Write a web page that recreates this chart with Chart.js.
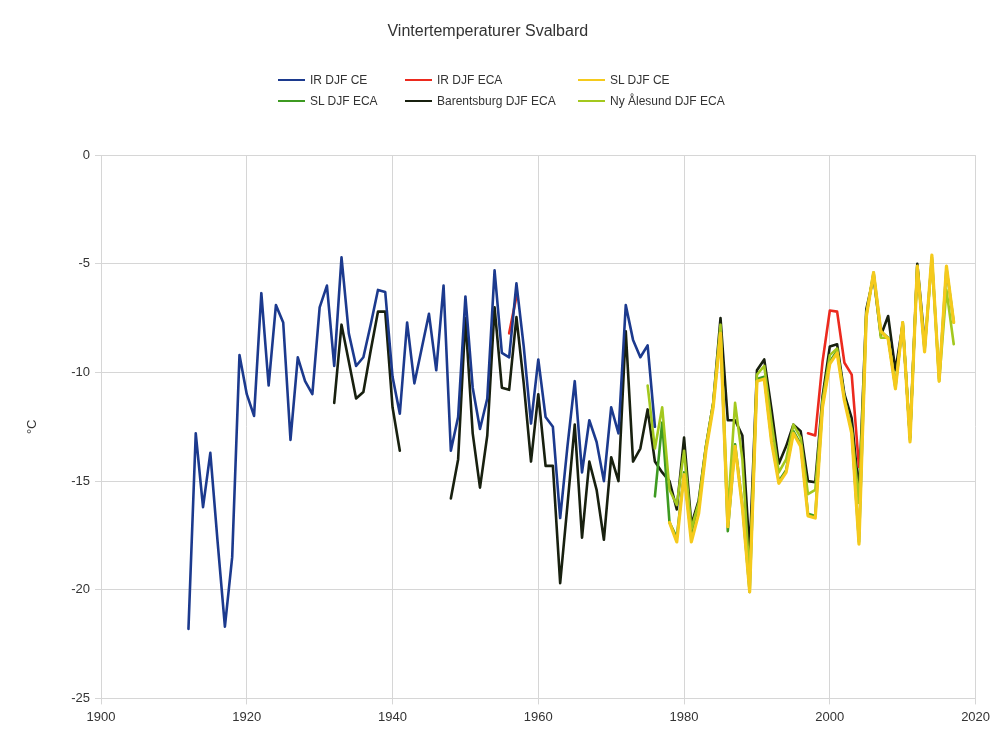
<!DOCTYPE html>
<html>
<head>
<meta charset="utf-8">
<script src="https://cdn.jsdelivr.net/npm/chart.js@4/dist/chart.umd.min.js"></script>
<style>
  body { margin: 0; background: #fff; font-family: "Liberation Sans", Arial, sans-serif; }
  #wrap { position: relative; width: 997px; height: 733px; }
  #legend {
    position: absolute; left: 278px; top: 69px;
    display: grid; grid-template-columns: 127px 173px auto;
    font-size: 12px; color: #333;
  }
  .item { display: flex; align-items: center; height: 21px; white-space: nowrap; }
  .item i { display: inline-block; width: 27px; height: 2px; margin-right: 5px; }
</style>
</head>
<body>
<div id="wrap">
  <canvas id="chart" width="997" height="733"></canvas>
  <div id="legend"></div>
</div>
<script>
// tick labels
const xTicks = [1900, 1920, 1940, 1960, 1980, 2000, 2020];
const yTicks = [0, -5, -10, -15, -20, -25];

// IR DJF CE, yearly from 1912
const irCeStart = 1912;
const irCe = [-21.8, -12.8, -16.2, -13.7, -17.8, -21.7, -18.5, -9.2, -11.0, -12.0,
  -6.35, -10.6, -6.9, -7.7, -13.1, -9.3, -10.4, -11.0, -7.0, -6.0,
  -9.7, -4.7, -8.2, -9.7, -9.3, -7.8, -6.2, -6.3, -10.2, -11.9,
  -7.7, -10.5, -8.9, -7.3, -9.9, -6.0, -13.6, -12.05, -6.5, -10.7,
  -12.6, -11.2, -5.3, -9.1, -9.3, -5.9, -8.8, -12.35, -9.4, -12.05,
  -12.5, -16.7, -13.4, -10.4, -14.6, -12.2, -13.2, -15.0, -11.6, -12.8,
  -6.9, -8.5, -9.3, -8.75, -12.5];

// IR DJF ECA, only where it shows
const irEcaYears = [1956, 1957, 1958, 1997, 1998, 1999, 2000, 2001, 2002, 2003, 2004];
const irEca = [-8.2, -6.5, null, -12.8, -12.9, -9.5, -7.15, -7.2, -9.55, -10.1, -14.35];

// SL DJF CE, yearly from 1978
const slCeStart = 1978;
const slCe = [-16.9, -17.8, -14.7, -17.8, -16.5, -13.6, -11.6, -8.2, -17.1, -13.4,
  -16.2, -20.1, -10.4, -10.3, -13.2, -15.1, -14.6, -12.8, -13.4, -16.6,
  -16.7, -11.6, -9.6, -9.1, -11.3, -12.8, -17.9, -7.45, -5.4, -8.1,
  -8.45, -10.75, -7.7, -13.2, -5.1, -9.05, -4.6, -10.4, -5.1, -7.7];

// SL DJF ECA, yearly from 1976
const slEcaStart = 1976;
const slEca = [-15.7, -12.3, -16.9, -17.6, -14.6, -17.6, -16.3, -13.5, -11.5, -8.1,
  -17.3, -13.3, -16.1, -20.1, -10.3, -10.2, -13.1, -15.0, -14.5, -12.7,
  -13.3, -16.5, -16.6, -11.5, -9.5, -9.0, -11.2, -12.7, -17.8, -7.4,
  -5.4, -8.1, -8.4, -10.7, -7.7, -13.1, -5.1, -9.0, -4.7, -10.3,
  -5.2, -7.7];

// Barentsburg DJF ECA, yearly from 1932 (gap 1942-1947)
const barStart = 1932;
const bar = [-11.4, -7.8, -9.5, -11.2, -10.9, -9.0, -7.2, -7.2, -11.6, -13.6,
  null, null, null, null, null, null, -15.8, -14.0, -7.5, -12.8,
  -15.3, -12.9, -7.0, -10.7, -10.8, -7.45, -10.5, -14.1, -11.0, -14.3,
  -14.3, -19.7, -16.1, -12.4, -17.6, -14.1, -15.4, -17.7, -13.9, -15.0,
  -8.1, -14.1, -13.5, -11.7, -14.1, -14.6, -15.0, -16.3, -13.0, -17.0,
  -15.9, -13.4, -11.4, -7.5, -12.2, -12.2, -12.9, -18.3, -9.9, -9.4,
  -11.7, -14.2, -13.4, -12.4, -12.7, -15.0, -15.05, -11.1, -8.8, -8.7,
  -11.0, -12.1, -15.5, -7.1, -5.6, -8.3, -7.4, -9.9, -7.8, -13.0,
  -5.0, -8.6];

// Ny Ålesund DJF ECA, yearly from 1975
const nyStart = 1975;
const ny = [-10.6, -13.5, -11.6, -15.4, -16.1, -13.6, -17.2, -16.0, -13.4, -11.4,
  -7.8, -16.5, -11.4, -14.0, -19.5, -10.1, -9.7, -12.3, -14.6, -14.0,
  -12.4, -13.0, -15.6, -15.4, -11.3, -9.2, -8.9, -11.2, -12.6, -16.0,
  -7.3, -5.5, -8.4, -8.4, -10.6, -7.7, -13.0, -5.1, -8.9, -4.8,
  -10.4, -6.2, -8.7];

const fromStart = (start, vals) => vals.map((v, i) => ({ x: start + i, y: v }));
const fromYears = (yrs, vals) => vals.map((v, i) => ({ x: yrs[i], y: v }));

const series = [
  { label: 'IR DJF CE', data: fromStart(irCeStart, irCe), color: '#1c3a8e', order: 1 },
  { label: 'IR DJF ECA', data: fromYears(irEcaYears, irEca), color: '#ec2a1e', order: 3 },
  { label: 'SL DJF CE', data: fromStart(slCeStart, slCe), color: '#f5ca1c', order: 0, width: 3.2 },
  { label: 'SL DJF ECA', data: fromStart(slEcaStart, slEca), color: '#3d9a21', order: 4 },
  { label: 'Barentsburg DJF ECA', data: fromStart(barStart, bar), color: '#18200f', order: 5 },
  { label: 'Ny Ålesund DJF ECA', data: fromStart(nyStart, ny), color: '#a3c81e', order: 2 }
];

const legend = document.getElementById('legend');
series.forEach(s => {
  const d = document.createElement('div');
  d.className = 'item';
  d.innerHTML = `<i style="background:${s.color}"></i>${s.label}`;
  legend.appendChild(d);
});

const gridColor = '#d6d6d6';
const tickFont = { family: '"Liberation Sans", Arial, sans-serif', size: 13 };

new Chart(document.getElementById('chart'), {
  type: 'line',
  data: {
    datasets: series.map(s => ({
      label: s.label,
      data: s.data,
      borderColor: s.color,
      backgroundColor: s.color,
      borderWidth: s.width || 2.6,
      borderJoinStyle: 'round',
      borderCapStyle: 'round',
      pointRadius: 0,
      tension: 0,
      spanGaps: false,
      order: s.order
    }))
  },
  options: {
    responsive: false,
    animation: false,
    devicePixelRatio: 1,
    layout: { padding: { left: 0, right: 21.4, top: 0, bottom: 0 } },
    plugins: {
      legend: { display: false },
      tooltip: { enabled: false },
      title: {
        display: true,
        text: 'Vintertemperaturer Svalbard',
        color: '#333',
        font: { family: '"Liberation Sans", Arial, sans-serif', size: 16, weight: 'normal' },
        padding: { top: 22, bottom: 114 }
      }
    },
    scales: {
      x: {
        type: 'linear',
        min: 1900, max: 2020,
        afterBuildTicks: s => { s.ticks = xTicks.map(v => ({ value: v })); },
        afterFit: s => { s.height = 34.6; },
        ticks: { callback: v => String(v), color: '#333', font: tickFont, padding: 5, maxRotation: 0, autoSkip: false },
        grid: { color: gridColor, tickLength: 6 },
        border: { color: gridColor }
      },
      y: {
        min: -25, max: 0,
        afterBuildTicks: s => { s.ticks = yTicks.map(v => ({ value: v })); },
        afterFit: s => { s.width = 101; },
        ticks: { callback: v => String(v), color: '#333', font: tickFont, padding: 5 },
        grid: { color: gridColor, tickLength: 6 },
        border: { color: gridColor },
        title: { display: true, text: '°C', color: '#333', font: tickFont, padding: { top: 25 } }
      }
    }
  }
});
</script>
</body>
</html>
